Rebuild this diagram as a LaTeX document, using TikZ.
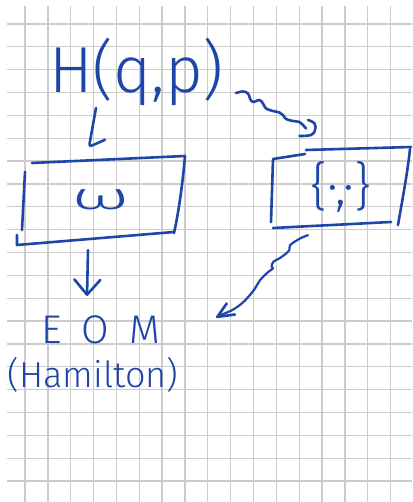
\documentclass[tikz,border=0pt]{standalone}
\usepackage{fontspec}
\usetikzlibrary{arrows.meta,calc}
\newfontfamily\hand{Fira Sans Light}
\definecolor{ink}{RGB}{30,70,168}
\definecolor{gridgray}{RGB}{204,204,204}
\tikzset{
  pen/.style={draw=ink, line width=2.6pt, line cap=round, line join=round},
  handtext/.style={text=ink, inner sep=0pt, font=\hand},
  gridline/.style={draw=gridgray, line width=1.3pt},
}
\begin{document}
\begin{tikzpicture}[x=1pt,y=-1pt]
\fill[white] (0,0) rectangle (412,502);
\useasboundingbox (0,0) rectangle (412,502);

% squared paper
\foreach \i in {0,...,16}
  \draw[gridline] ({25+22.85*\i},6) -- ({25+22.85*\i},502);
\foreach \j in {0,...,20}
  \draw[gridline] (7,{24+22.85*\j}) -- (412,{24+22.85*\j});

% labels and boxes
\node[handtext, anchor=base] (H) at (136.5,93)
  {\fontsize{65}{65}\selectfont H(q,p)};
\node[handtext, minimum width=170pt, minimum height=90pt] (b1) at (101,200)
  {\fontsize{38}{38}\selectfont\scalebox{2}[1]{ω}};
\node[handtext, minimum width=140pt, minimum height=82pt] (b2) at (341,187)
  {\fontsize{52}{52}\selectfont\{·,·\}};
\node[handtext, anchor=base] (eom) at (100.5,343)
  {\fontsize{40}{40}\selectfont E\hspace{20pt}O\hspace{20pt}M};
\node[handtext, anchor=base] (ham) at (93,387)
  {\fontsize{36}{36}\selectfont(Hamilton)};

% hand-drawn outline of the omega box
\begin{scope}[shift={(b1.center)}]
  \draw[pen] (-69,-37) -- (84,-44);
  \draw[pen] (84,-44) .. controls (81,-10) and (77,15) .. (73,33);
  \draw[pen] (-76,-28) -- (-79,30);
  \draw[pen] (-84,35) -- (-84,45) -- (73,32);
\end{scope}

% hand-drawn outline of the bracket box
\begin{scope}[shift={(b2.center)}]
  \draw[pen] (-68,-28) -- (-36,-33);
  \draw[pen] (-35,-37) -- (70,-40);
  \draw[pen] (-68,-27) -- (-70,35);
  \draw[pen] (-68,41) -- (50,35);
  \draw[pen] (69,-38) .. controls (66,-10) and (60,20) .. (57,38);
\end{scope}

% H -> omega box
\draw[pen, rounded corners=3pt] ($(H.base)+(-40.5,15)$) -- ($(b1.north)+(-12,-8)$) -- ++(16,-7);

% omega box -> EOM
\draw[pen, -{Straight Barb[length=15pt,width=26pt,round]}]
  ($(b1.south)+(-13,5)$) -- ($(eom.north)+(-13.5,-19)$);

% wavy arrow: H -> bracket box
\begin{scope}[shift={($(H.base)+(99.5,0)$)}]
  \draw[pen] plot[smooth, tension=0.6] coordinates {(0,0) (7,-1.5) (12,0.5) (14,5.5) (17,9) (23.5,7) (27,10.5) (30,15.5) (37,18) (43.5,19.5) (47,22) (50,26) (57,28) (63.5,29) (67,32) (70,35.5)};
  \draw[pen] plot[smooth, tension=0.7] coordinates {(72,27) (78.5,30.5) (79,37) (75,42) (63.5,43)};
\end{scope}

% wavy arrow out of the bracket box
\begin{scope}[shift={($(b2.south)+(-33,7)$)}]
  \draw[pen, line width=2.2pt] plot[smooth, tension=0.6] coordinates {(0,0) (-8,3.3) (-18,10) (-18.7,15) (-26.3,21.7) (-34.7,26.7) (-36.3,31.7) (-35,33.3) (-39.7,36.7) (-48,45) (-53,53.3) (-59.7,61.7) (-66.3,68.3) (-76,75) (-88,80)};
  \draw[pen] (-81.3,68.3) -- (-90.7,81.7) -- (-73,79.3);
\end{scope}
\end{tikzpicture}
\end{document}
